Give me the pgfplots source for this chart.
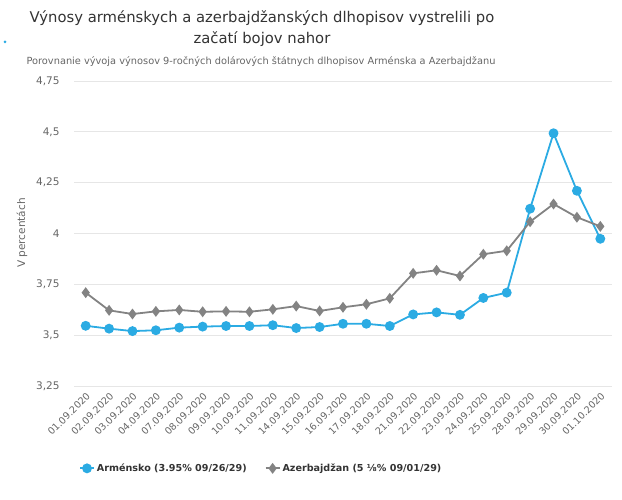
\documentclass[border=0pt]{standalone}
\usepackage{pgfplots}
\pgfplotsset{compat=1.18}
\usepackage{fontspec}
\setmainfont{DejaVu Sans}
\definecolor{arm}{HTML}{2BABE3}
\definecolor{aze}{HTML}{838383}
\definecolor{gridc}{HTML}{E6E6E6}
\definecolor{axc}{HTML}{CCD6EB}
\definecolor{txt}{HTML}{333333}
\definecolor{lab}{HTML}{666666}
\begin{document}
\begin{tikzpicture}[x=1pt,y=1pt]
\path[use as bounding box] (0,0) rectangle (622,500);
\begin{axis}[
  at={(74pt,114pt)}, anchor=south west,
  scale only axis, width=538pt, height=305pt,
  xmin=-0.5, xmax=22.5, ymin=3.25, ymax=4.75,
  ytick={3.25,3.5,3.75,4,4.25,4.5,4.75},
  /pgf/number format/use comma,
  /pgf/number format/assume math mode=true,
  yticklabel style={font=\fontsize{10.5}{12}\selectfont, color=lab, xshift=-11pt},
  xtick={0,...,22},
  xticklabels={01.09.2020,02.09.2020,03.09.2020,04.09.2020,07.09.2020,08.09.2020,09.09.2020,10.09.2020,11.09.2020,14.09.2020,15.09.2020,16.09.2020,17.09.2020,18.09.2020,21.09.2020,22.09.2020,23.09.2020,24.09.2020,25.09.2020,28.09.2020,29.09.2020,30.09.2020,01.10.2020},
  xticklabel style={font=\fontsize{9.6}{11}\selectfont, color=lab, rotate=45, anchor=north east, xshift=-3pt, yshift=-3pt, inner sep=1pt},
  major tick length=0pt,
  ymajorgrids, grid style={gridc, line width=0.8pt},
  axis line style={draw=none},
  axis x line*=bottom,
  axis y line*=left,
  legend columns=2,
  legend style={at={(0.348,-0.27)}, anchor=center, draw=none, fill=none,
    font=\fontsize{9.6}{12}\selectfont\bfseries, text=txt,
    /tikz/every even column/.append style={column sep=16pt}},
  legend image code/.code={\draw[#1] (0pt,0pt) -- (14pt,0pt); \draw[#1, mark repeat=1] plot coordinates {(7pt,0pt)};},
]
\draw[axc, line width=0.8pt] (rel axis cs:0,0) -- (rel axis cs:1,0);
\addplot[arm, line width=1.8pt, mark=*, mark size=4pt, mark options={fill=arm, draw=arm}] coordinates {
(0,3.546) (1,3.532) (2,3.520) (3,3.524) (4,3.537) (5,3.542) (6,3.545) (7,3.545) (8,3.549) (9,3.535) (10,3.540)
(11,3.556) (12,3.556) (13,3.545) (14,3.602) (15,3.612) (16,3.600) (17,3.683) (18,3.709) (19,4.122) (20,4.493) (21,4.210) (22,3.974)};
\addlegendentry{Arménsko (3.95\% 09/26/29)}
\addplot[aze, line width=1.8pt, mark=diamond*, mark size=4pt, mark options={fill=aze, draw=aze}] coordinates {
(0,3.709) (1,3.622) (2,3.604) (3,3.617) (4,3.624) (5,3.615) (6,3.617) (7,3.615) (8,3.627) (9,3.643) (10,3.619)
(11,3.637) (12,3.652) (13,3.681) (14,3.804) (15,3.819) (16,3.791) (17,3.898) (18,3.915) (19,4.058) (20,4.145) (21,4.080) (22,4.035)};
\addlegendentry{Azerbajdžan (5 ⅛\% 09/01/29)}
\end{axis}
\node[font=\fontsize{14.8}{21}\selectfont, text=txt, align=center] at (262,471) {Výnosy arménskych a azerbajdžanských dlhopisov vystrelili po\\začatí bojov nahor};
\node[font=\fontsize{9.8}{12}\selectfont, text=lab] at (261,438) {Porovnanie vývoja výnosov 9-ročných dolárových štátnych dlhopisov Arménska a Azerbajdžanu};
\node[font=\fontsize{10.5}{12}\selectfont, text=lab, rotate=90] at (22,267) {V percentách};
\fill[arm] (5,458) circle (1.5);
\end{tikzpicture}
\end{document}
